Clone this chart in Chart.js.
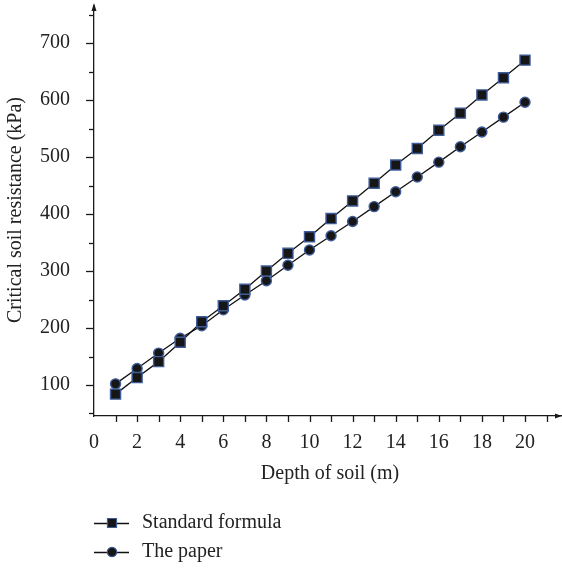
<!DOCTYPE html>
<html>
<head>
<meta charset="utf-8">
<script src="https://cdn.jsdelivr.net/npm/chart.js@4.4.1/dist/chart.umd.min.js"></script>
<style>
html,body{margin:0;padding:0;background:#fff;}
#wrap{width:562px;height:569px;position:relative;}
</style>
</head>
<body>
<div id="wrap"><canvas id="c" width="562" height="569"></canvas></div>
<script>
const depth = [1,2,3,4,5,6,7,8,9,10,11,12,13,14,15,16,17,18,19,20];
const standardFormula = [84,113,141,175,211,239,268,300,331,360,392,423,454,486,515,547,577,609,639,670];
const thePaper = [102,129,156,182,204,232,258,283,310,337,362,387,413,439,465,491,518,544,570,596];
const seriesNames = ['Standard formula','The paper'];
const xTickValues = [0,1,2,3,4,5,6,7,8,9,10,11,12,13,14,15,16,17,18,19,20,21];
const yTickValues = [50,100,150,200,250,300,350,400,450,500,550,600,650,700,750];
const xTitle = 'Depth of soil (m)';
const yTitle = 'Critical soil resistance (kPa)';

const FONT = '"Liberation Serif", "Times New Roman", serif';
const MARK_FILL = '#161616';
const MARK_EDGE = '#3f5c9a';

const deco = {
  id: 'deco',
  afterDraw(chart) {
    const ctx = chart.ctx;
    const xs = chart.scales.x, ys = chart.scales.y;
    const ca = chart.chartArea;
    ctx.save();
    ctx.strokeStyle = '#1a1a1a';
    ctx.fillStyle = '#1a1a1a';
    ctx.lineWidth = 1.3;
    yTickValues.forEach(v => {
      const py = Math.round(ys.getPixelForValue(v)) + 0.5;
      const len = (v % 100 === 0) ? 8 : 5;
      ctx.beginPath(); ctx.moveTo(ca.left - len, py); ctx.lineTo(ca.left, py); ctx.stroke();
    });
    xTickValues.forEach(v => {
      if (v === 0) return;
      const px = Math.round(xs.getPixelForValue(v)) + 0.5;
      ctx.beginPath(); ctx.moveTo(px, ca.bottom); ctx.lineTo(px, ca.bottom + 6); ctx.stroke();
    });
    ctx.beginPath();
    ctx.moveTo(ca.left, ca.top - 3); ctx.lineTo(ca.left - 2.5, ca.top + 5); ctx.lineTo(ca.left + 2.5, ca.top + 5); ctx.closePath(); ctx.fill();
    ctx.beginPath();
    ctx.moveTo(ca.right + 1, ca.bottom); ctx.lineTo(ca.right - 6, ca.bottom - 2.5); ctx.lineTo(ca.right - 6, ca.bottom + 2.5); ctx.closePath(); ctx.fill();
    ctx.fillStyle = '#222';
    ctx.font = '20px ' + FONT;
    ctx.textAlign = 'center';
    ctx.textBaseline = 'middle';
    ctx.fillText(xTitle, 330, 474);
    ctx.save();
    ctx.translate(16, 210);
    ctx.rotate(-Math.PI / 2);
    ctx.fillText(yTitle, 0, 0);
    ctx.restore();
    const items = chart.data.datasets;
    const ly = [523, 552];
    items.forEach((ds, i) => {
      const y = ly[i];
      ctx.strokeStyle = '#111';
      ctx.lineWidth = 1.3;
      ctx.beginPath(); ctx.moveTo(94, y + 0.5); ctx.lineTo(129, y + 0.5); ctx.stroke();
      ctx.fillStyle = MARK_FILL;
      ctx.strokeStyle = MARK_EDGE;
      ctx.lineWidth = 1.2;
      ctx.beginPath();
      if (ds.pointStyle === 'rect') ctx.rect(107.5, y - 4.5, 9, 9);
      else ctx.arc(112, y, 4.7, 0, Math.PI * 2);
      ctx.fill(); ctx.stroke();
      ctx.fillStyle = '#222';
      ctx.textAlign = 'left';
      ctx.fillText(ds.label, 142, y);
    });
    ctx.restore();
  }
};

new Chart(document.getElementById('c'), {
  type: 'line',
  data: {
    datasets: [
      { label: seriesNames[0], data: depth.map((d,i)=>({x:d,y:standardFormula[i]})),
        borderColor: '#111', borderWidth: 1.3, pointStyle: 'rect', pointRadius: 7.1,
        pointBackgroundColor: MARK_FILL, pointBorderColor: MARK_EDGE, pointBorderWidth: 1.4, tension: 0 },
      { label: seriesNames[1], data: depth.map((d,i)=>({x:d,y:thePaper[i]})),
        borderColor: '#111', borderWidth: 1.3, pointStyle: 'circle', pointRadius: 5,
        pointBackgroundColor: MARK_FILL, pointBorderColor: MARK_EDGE, pointBorderWidth: 1.4, tension: 0 }
    ]
  },
  options: {
    responsive: false,
    animation: false,
    layout: { autoPadding: false, padding: { left: 0, right: 1, top: 6, bottom: 0 } },
    plugins: { legend: { display: false }, tooltip: { enabled: false } },
    scales: {
      x: {
        type: 'linear', min: 0, max: 21.67,
        afterFit: s => { s.height = 153; s.paddingLeft = 0; s.paddingRight = 0; s.paddingTop = 0; s.paddingBottom = 0; },
        afterBuildTicks: s => { s.ticks = xTickValues.map(v => ({ value: v })); },
        grid: { display: false },
        border: { display: true, color: '#1a1a1a', width: 1.3 },
        ticks: { autoSkip: false, maxRotation: 0, padding: 7, color: '#222',
          font: { family: FONT, size: 20 },
          callback: v => (v % 2 === 0 ? String(v) : '') }
      },
      y: {
        type: 'linear', min: 45.6, max: 765,
        afterFit: s => { s.width = 94; s.paddingLeft = 0; s.paddingRight = 0; s.paddingTop = 0; s.paddingBottom = 0; },
        afterBuildTicks: s => { s.ticks = yTickValues.map(v => ({ value: v })); },
        grid: { display: false },
        border: { display: true, color: '#1a1a1a', width: 1.3 },
        ticks: { autoSkip: false, padding: 16, color: '#222',
          font: { family: FONT, size: 20 },
          callback: v => (v % 100 === 0 ? String(v) : '') }
      }
    }
  },
  plugins: [deco]
});
</script>
</body>
</html>
